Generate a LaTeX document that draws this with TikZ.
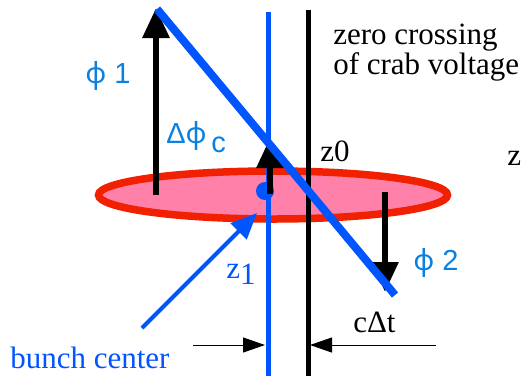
\documentclass[tikz,border=0pt]{standalone}
\usepackage{fontspec}
\setmainfont{Liberation Serif}
\newfontfamily\greeksans{Liberation Sans}
\newfontfamily\phiglyph{Noto Sans}
\usetikzlibrary{arrows.meta}
\definecolor{bunchred}{RGB}{240,32,0}
\definecolor{bunchpink}{RGB}{255,128,168}
\definecolor{lineblue}{RGB}{0,85,255}
\definecolor{labelblue}{RGB}{10,128,224}
\newcommand{\phase}{{\phiglyph ϕ}}

\begin{document}
\begin{tikzpicture}[x=1pt,y=-1pt,line width=.5pt,
  kick/.style={-{Triangle[length=30pt,width=26pt]},line width=6pt},
  gap/.style={-{Triangle[length=22pt,width=15pt]},line width=1pt},
  lbl/.style={anchor=base west,inner sep=0pt,font=\fontsize{31}{30}\selectfont},
  phil/.style={anchor=base west,inner sep=0pt,text=labelblue,font=\greeksans\fontsize{29}{30}\selectfont}]
\path[use as bounding box] (0,0) rectangle (525,376);
\draw[bunchred,fill=bunchpink,line width=7.5pt] (273,195) ellipse [x radius=174.5,y radius=24];
\coordinate (zTop) at (308,10);
\coordinate (zBot) at (308,376);
\coordinate (bTop) at (268,12);
\coordinate (bBot) at (268,376);
\draw[line width=5pt] (zTop) -- (zBot);
\draw[lineblue,line width=5pt] (bTop) -- (bBot);
\fill[lineblue] (265,191) circle (9);
\coordinate (dcBase) at (270,194);
\coordinate (dcTip) at (270,138);
\coordinate (p1Base) at (156,195);
\coordinate (p1Tip) at (156,8);
\coordinate (p2Base) at (385,192);
\coordinate (p2Tip) at (385,292);
\draw[kick] (dcBase) -- (dcTip);
\draw[kick] (p1Base) -- (p1Tip);
\draw[kick] (p2Base) -- (p2Tip);
\coordinate (tiltA) at (157,9);
\coordinate (tiltB) at (395,295);
\draw[lineblue,line width=8pt] (tiltA) -- (tiltB);
\coordinate (gapL) at (193,345);
\coordinate (gapR) at (436,345);
\draw[gap] (gapL) -- (265,345);
\draw[gap] (gapR) -- (310,345);
\coordinate (ptrStart) at (142,328);
\coordinate (ptrEnd) at (257,213);
\draw[lineblue,line width=4pt,-{Triangle[length=26pt,width=22pt]}] (ptrStart) -- (ptrEnd);
% labels
\node[lbl,anchor=north west,align=left] (crossing) at (333,24) {zero crossing\\of crab voltage};
\node[lbl] (zzero) at (320,161) {z0};
\node[lbl] (zaxis) at (507,165) {z};
\node[phil] (phione) at (85,83) {\phase\ 1};
\node[phil] (dphic) at (166,143) {Δ\phase\,\raisebox{-9pt}{c}};
\node[phil] (phitwo) at (413,270) {\phase\ 2};
\node[lbl,text=lineblue] (zone) at (226,278) {z\raisebox{-6pt}{1}};
\node[lbl] (cdt) at (353,332) {cΔt};
\node[lbl,text=lineblue] (bunch) at (10,368) {bunch center};
\end{tikzpicture}
\end{document}
